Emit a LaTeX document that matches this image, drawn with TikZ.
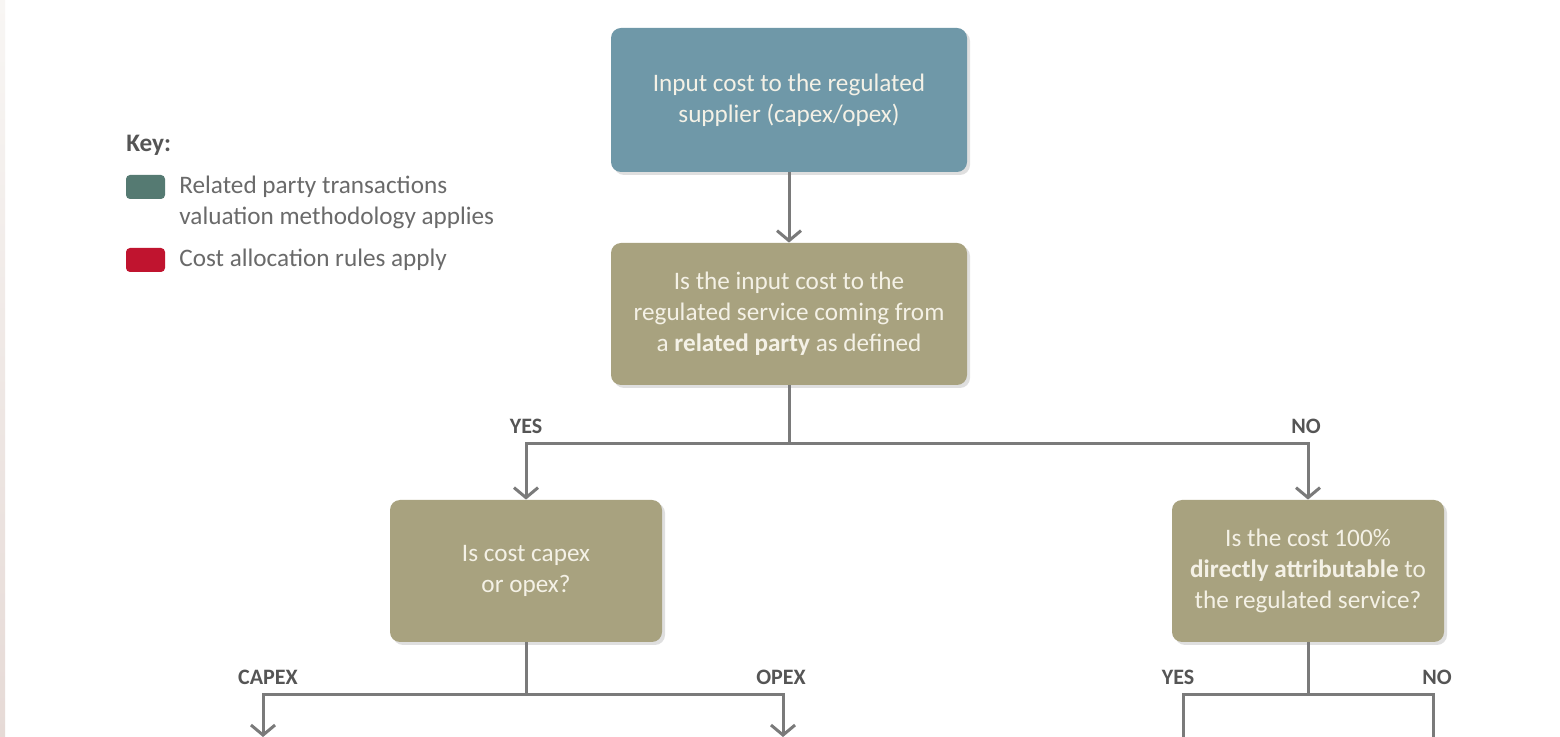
\documentclass[tikz,border=0pt]{standalone}
\usepackage{fontspec}
\setmainfont{Carlito}
\usetikzlibrary{arrows.meta,shadows}
\definecolor{topblue}{HTML}{6F98A8}
\definecolor{khaki}{HTML}{A8A27F}
\definecolor{linegray}{HTML}{7A7A7A}
\definecolor{labelgray}{HTML}{555555}
\definecolor{keytext}{HTML}{6A6A6A}
\definecolor{keygreen}{HTML}{557A72}
\definecolor{keyred}{HTML}{C0142F}
\definecolor{boxtext}{HTML}{F4F1E6}
\definecolor{stripA}{HTML}{F8F6F4}
\definecolor{stripB}{HTML}{E6DAD6}
\begin{document}
\begin{tikzpicture}[x=0.5pt,y=-0.5pt,
  flowbox/.style={rounded corners=5pt, text=boxtext, align=center,
    font=\fontsize{12.6}{15.6}\selectfont, inner sep=0pt,
    drop shadow={opacity=0.25, shadow xshift=1.5pt, shadow yshift=-1.5pt}},
  startbox/.style={flowbox, fill=topblue, minimum width=178pt, minimum height=72pt},
  bigq/.style={flowbox, fill=khaki, minimum width=178pt, minimum height=71pt},
  smallq/.style={flowbox, fill=khaki, minimum width=136pt, minimum height=71pt},
  wire/.style={draw=linegray, line width=1.5pt},
  conn/.style={wire, -{Straight Barb[length=5pt, width=12pt, line width=1.5pt]}},
  branchlabel/.style={text=labelgray, font=\fontsize{11}{12}\bfseries\selectfont, inner sep=0pt},
  swatch/.style={rounded corners=2pt, minimum width=19.5pt, minimum height=12pt, inner sep=0pt},
  keylabel/.style={text=keytext, font=\fontsize{12.6}{15.5}\selectfont, align=left, anchor=west, inner sep=0pt}
]
\useasboundingbox (0,0) rectangle (1560,737);
\clip (0,0) rectangle (1560,737);
\fill[white] (0,0) rectangle (1560,737);
\shade[top color=stripA, bottom color=stripB] (0,0) rectangle (5,737);

% key
\node[text=labelgray, font=\fontsize{12.6}{14}\bfseries\selectfont, anchor=west, inner sep=0pt] (keytitle) at (126,145) {Key:};
\node[swatch, fill=keygreen] (swrp) at (145.5,187) {};
\node[keylabel] (txrp) at (179,202) {Related party transactions\\valuation methodology applies};
\node[swatch, fill=keyred] (swca) at (145.5,260) {};
\node[keylabel] (txca) at (179,260) {Cost allocation rules apply};

% boxes
\node[startbox] (input) at (789,100) {Input cost to the regulated\\supplier (capex/opex)};
\node[bigq] (related) at (789,314) {Is the input cost to the\\regulated service coming from\\a \textbf{related party} as defined};
\node[smallq] (capop) at (526,571) {Is cost capex\\or opex?};
\node[smallq] (direct) at (1308,571) {Is the cost 100\%\\\textbf{directly attributable} to\\the regulated service?};

% connectors
\draw[conn] (input) -- (related);

\coordinate (split1) at (789,444);
\draw[wire] (related) -- (split1);
\draw[conn] (split1) -| (capop);
\draw[conn] (split1) -| (direct);
\node[branchlabel] (yes1) at (526,426) {YES};
\node[branchlabel] (no1) at (1306,426) {NO};

\coordinate (split2) at (526,695);
\coordinate (capexend) at (263,737);
\coordinate (opexend) at (783,737);
\draw[wire] (capop) -- (split2);
\draw[conn] (split2) -| (capexend);
\draw[conn] (split2) -| (opexend);
\node[branchlabel] (capexlbl) at (268,677) {CAPEX};
\node[branchlabel] (opexlbl) at (781,677) {OPEX};

\coordinate (split3) at (1308,695);
\coordinate (yesend) at (1183,745);
\coordinate (noend) at (1433,745);
\draw[wire] (direct) -- (split3);
\draw[wire] (split3) -| (yesend);
\draw[wire] (split3) -| (noend);
\node[branchlabel] (yes2) at (1178,677) {YES};
\node[branchlabel] (no2) at (1437,677) {NO};
\end{tikzpicture}
\end{document}
